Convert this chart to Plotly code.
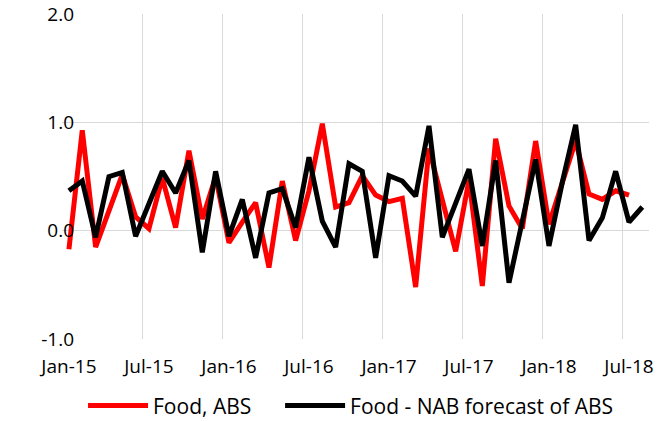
import plotly.graph_objects as go

months = ["Jan-15","Feb-15","Mar-15","Apr-15","May-15","Jun-15","Jul-15","Aug-15","Sep-15","Oct-15","Nov-15","Dec-15",
          "Jan-16","Feb-16","Mar-16","Apr-16","May-16","Jun-16","Jul-16","Aug-16","Sep-16","Oct-16","Nov-16","Dec-16",
          "Jan-17","Feb-17","Mar-17","Apr-17","May-17","Jun-17","Jul-17","Aug-17","Sep-17","Oct-17","Nov-17","Dec-17",
          "Jan-18","Feb-18","Mar-18","Apr-18","May-18","Jun-18","Jul-18","Aug-18"]

food_abs = [-0.17, 0.93, -0.15, 0.17, 0.52, 0.13, 0.02, 0.49, 0.03, 0.74, 0.11, 0.50,
            -0.11, 0.08, 0.26, -0.34, 0.46, -0.09, 0.37, 0.99, 0.22, 0.26, 0.51, 0.33,
            0.27, 0.30, -0.52, 0.76, 0.27, -0.19, 0.47, -0.51, 0.85, 0.23, 0.02, 0.83,
            0.06, 0.45, 0.83, 0.34, 0.29, 0.37, 0.33]

food_nab = [0.37, 0.46, -0.06, 0.50, 0.54, -0.05, 0.25, 0.55, 0.35, 0.65, -0.20, 0.55,
            -0.05, 0.29, -0.25, 0.35, 0.39, 0.03, 0.68, 0.09, -0.15, 0.62, 0.55, -0.25,
            0.51, 0.46, 0.32, 0.97, -0.06, 0.24, 0.57, -0.14, 0.65, -0.48, 0.09, 0.66,
            -0.14, 0.45, 0.98, -0.09, 0.12, 0.55, 0.08, 0.22]

tick_labels = ["Jan-15", "Jul-15", "Jan-16", "Jul-16", "Jan-17", "Jul-17", "Jan-18", "Jul-18"]
y_ticks = [-1.0, 0.0, 1.0, 2.0]

idx_abs = list(range(len(food_abs)))
idx_nab = list(range(len(food_nab)))
label_pos = [i * 6 for i in range(len(tick_labels))]
grid_pos = [p - 0.5 for p in label_pos]
xr = [-0.52, len(months) - 0.5]
yr = [-1.0, 2.004]

font = "Open Sans"
grid = "#d9d9d9"

fig = go.Figure()
fig.add_trace(go.Scatter(x=idx_abs, y=food_abs, mode="lines", name="Food, ABS",
                         line=dict(color="#ff0000", width=5), xaxis="x", yaxis="y",
                         legend="legend"))
fig.add_trace(go.Scatter(x=idx_nab, y=food_nab, mode="lines", name="Food - NAB forecast of ABS",
                         line=dict(color="#000000", width=5), xaxis="x2", yaxis="y",
                         legend="legend2"))

leg_common = dict(orientation="h", xanchor="left", xref="container",
                  y=0.036, yanchor="middle", yref="container",
                  font=dict(family=font, size=21), itemwidth=60, bgcolor="rgba(0,0,0,0)")

fig.update_layout(
    width=659, height=421,
    margin=dict(l=62, r=10, t=14, b=82, autoexpand=False),
    paper_bgcolor="white", plot_bgcolor="white",
    font=dict(family=font, size=19, color="#000000"),
    showlegend=True,
    legend=dict(x=0.126, **leg_common),
    legend2=dict(x=0.425, **leg_common),
    xaxis=dict(range=xr, tickmode="array", tickvals=grid_pos, ticktext=[""] * len(grid_pos),
               showgrid=True, gridcolor=grid, gridwidth=1.3, zeroline=False,
               showline=False, ticks="", automargin=False),
    xaxis2=dict(range=xr, overlaying="x", side="bottom", tickmode="array",
                tickvals=label_pos, ticktext=tick_labels, showgrid=False, zeroline=False,
                showline=False, ticks="outside", ticklen=10, tickcolor="rgba(0,0,0,0)",
                automargin=False),
    yaxis=dict(range=yr, tickmode="array", tickvals=y_ticks,
               ticktext=[f"{v:.1f}" for v in y_ticks], showgrid=True, gridcolor=grid,
               gridwidth=1.3, zeroline=False, showline=False, ticks="",
               ticklabelstandoff=-13, automargin=False),
)

# remove the browser's default 8px body margin so the figure fills the window exactly
fig.write_html("out.html", config={"displayModeBar": False},
               post_script="document.body.style.margin='0px';document.body.style.overflow='hidden';")
